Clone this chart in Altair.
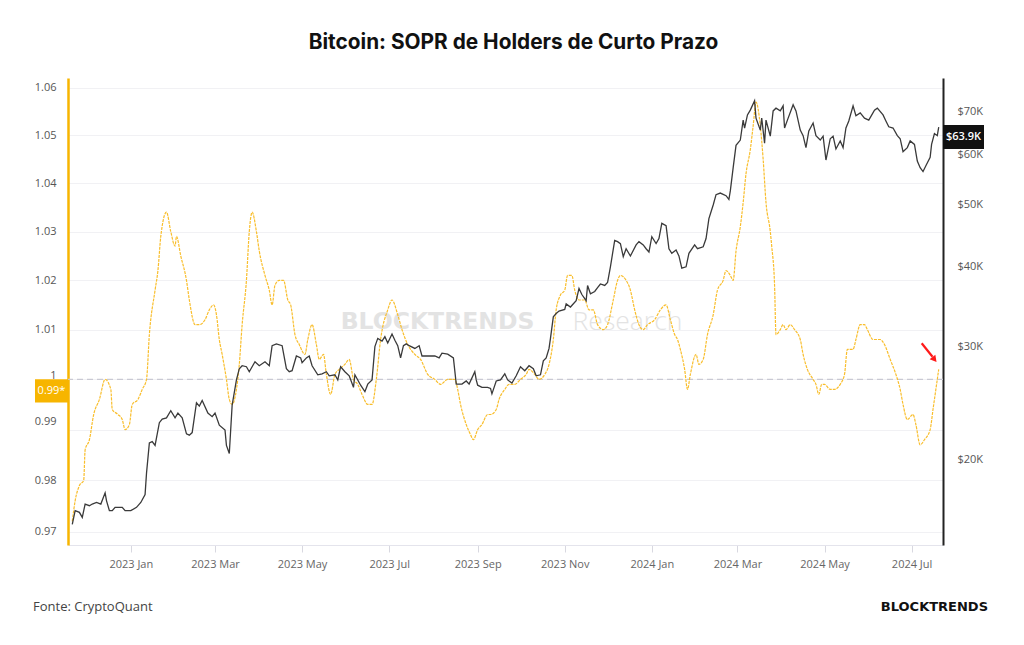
import altair as alt
import pandas as pd

# ---- data ----
# days since 2023-01-01
sopr_day = [-41, -39, -36, -33, -32, -29, -26, -22, -18, -14, -13, -9, -6, -4, -1, 1, 5, 8, 11, 13,
            17, 19, 21, 25, 28, 31, 32, 35, 39, 41, 45, 48, 52, 55, 58, 60, 62, 64, 67, 69,
            71, 74, 76, 78, 81, 83, 85, 88, 90, 94, 97, 99, 101, 104, 107, 110, 112, 115, 118, 122,
            124, 127, 130, 132, 135, 137, 140, 143, 146, 150, 153, 156, 159, 162, 166, 169, 172, 175, 180, 183,
            187, 190, 194, 199, 203, 208, 213, 217, 222, 227, 229, 231, 235, 238, 240, 243, 246, 250, 252, 256,
            258, 262, 265, 269, 273, 277, 279, 283, 286, 290, 293, 296, 298, 301, 304, 306, 309, 311, 314, 318,
            321, 324, 327, 331, 334, 338, 341, 343, 347, 350, 353, 356, 359, 362, 367, 371, 375, 378, 381, 383,
            385, 388, 390, 392, 396, 398, 401, 404, 408, 411, 415, 417, 420, 422, 424, 427, 429, 431, 434, 436,
            438, 441, 443, 445, 448, 449, 451, 452, 455, 457, 459, 462, 465, 469, 471, 474, 478, 480, 482, 484,
            486, 490, 493, 497, 500, 502, 506, 508, 511, 514, 516, 520, 522, 525, 528, 532, 536, 539, 541, 544,
            548, 550, 553, 556, 560, 562, 564, 566]
sopr_value = [0.972, 0.976, 0.979, 0.980, 0.986, 0.988, 0.993, 0.996, 1.000, 0.998, 0.994, 0.993, 0.992, 0.990, 0.991, 0.995, 0.996, 0.998, 1.000, 1.009,
              1.018, 1.022, 1.029, 1.034, 1.030, 1.027, 1.029, 1.025, 1.020, 1.016, 1.011, 1.011, 1.012, 1.014, 1.015, 1.013, 1.008, 1.005, 1.000, 0.996,
              0.995, 0.998, 1.003, 1.011, 1.020, 1.030, 1.034, 1.030, 1.026, 1.021, 1.018, 1.015, 1.019, 1.020, 1.020, 1.016, 1.015, 1.009, 1.007, 1.005,
              1.008, 1.011, 1.007, 1.004, 1.005, 1.001, 0.997, 1.001, 1.002, 1.003, 1.004, 1.000, 0.999, 0.997, 0.995, 0.995, 1.000, 1.008, 1.014, 1.016,
              1.013, 1.010, 1.007, 1.005, 1.004, 1.001, 1.000, 0.999, 1.000, 1.000, 0.998, 0.995, 0.991, 0.989, 0.988, 0.990, 0.991, 0.993, 0.993, 0.994,
              0.996, 0.998, 0.999, 0.999, 1.000, 1.001, 1.002, 1.001, 1.000, 1.001, 1.003, 1.008, 1.014, 1.017, 1.018, 1.021, 1.021, 1.018, 1.016, 1.016,
              1.014, 1.014, 1.011, 1.010, 1.011, 1.016, 1.020, 1.021, 1.020, 1.018, 1.014, 1.011, 1.010, 1.011, 1.012, 1.014, 1.015, 1.012, 1.009, 1.008,
              1.006, 1.002, 0.998, 1.001, 1.005, 1.003, 1.004, 1.009, 1.013, 1.018, 1.020, 1.022, 1.021, 1.020, 1.026, 1.031, 1.036, 1.042, 1.047, 1.052,
              1.057, 1.052, 1.045, 1.036, 1.030, 1.027, 1.019, 1.009, 1.010, 1.011, 1.010, 1.011, 1.010, 1.008, 1.005, 1.002, 1.000, 0.999, 0.997, 0.999,
              0.999, 0.998, 0.998, 0.999, 1.001, 1.006, 1.006, 1.008, 1.011, 1.011, 1.010, 1.008, 1.008, 1.008, 1.007, 1.004, 1.001, 0.998, 0.995, 0.992,
              0.993, 0.991, 0.987, 0.988, 0.990, 0.994, 0.998, 1.002]

price_day = [-41, -39, -36, -34, -32, -29, -27, -24, -21, -18, -17, -15, -13, -11, -6, -4, 0, 4, 7, 10,
             11, 13, 15, 17, 20, 22, 25, 28, 31, 33, 36, 39, 41, 43, 46, 48, 50, 54, 57, 59,
             62, 66, 67, 69, 71, 74, 76, 78, 81, 83, 87, 90, 94, 97, 99, 102, 106, 109, 111, 113,
             116, 119, 120, 123, 125, 127, 131, 134, 137, 139, 143, 145, 147, 150, 153, 156, 157, 159, 161, 164,
             166, 169, 171, 173, 176, 178, 180, 183, 185, 187, 189, 191, 193, 195, 199, 202, 204, 208, 213, 216,
             218, 222, 226, 228, 230, 232, 235, 237, 241, 242, 243, 246, 250, 252, 253, 256, 259, 262, 264, 267,
             270, 273, 276, 279, 282, 284, 287, 289, 291, 293, 294, 296, 298, 300, 304, 305, 308, 312, 314, 316,
             319, 320, 322, 325, 327, 329, 332, 334, 336, 339, 341, 343, 345, 347, 350, 354, 356, 359, 361, 363,
             365, 368, 370, 372, 375, 377, 379, 382, 384, 386, 389, 391, 395, 397, 401, 403, 405, 408, 410, 413,
             417, 419, 420, 422, 424, 427, 429, 430, 432, 434, 437, 438, 441, 442, 444, 445, 448, 450, 452, 455,
             457, 458, 460, 464, 466, 469, 471, 473, 475, 478, 480, 483, 485, 487, 490, 492, 494, 497, 499, 501,
             503, 506, 508, 511, 514, 517, 521, 523, 527, 529, 531, 534, 537, 539, 541, 544, 546, 549, 551, 553,
             555, 557, 560, 561, 563, 565, 566]
price_k = [15.8, 16.6, 16.5, 16.2, 17.0, 16.9, 17.0, 17.1, 17.0, 17.7, 17.2, 16.6, 16.6, 16.8, 16.8, 16.6, 16.6, 16.8, 17.1, 17.6,
           19.0, 21.2, 21.3, 21.0, 22.8, 23.1, 23.2, 23.8, 23.2, 23.6, 23.2, 21.9, 21.8, 22.0, 24.5, 24.2, 24.7, 23.6, 23.3, 23.6,
           22.6, 22.2, 21.0, 20.4, 24.3, 26.6, 27.7, 28.0, 27.9, 27.4, 28.4, 28.0, 28.4, 28.0, 30.1, 30.3, 30.1, 27.7, 27.4, 27.5,
           29.0, 28.8, 28.3, 28.8, 29.0, 28.0, 27.1, 27.2, 27.4, 27.0, 27.1, 26.6, 27.9, 27.4, 27.0, 25.9, 27.1, 26.6, 26.1, 25.5,
           26.2, 26.6, 30.0, 30.9, 30.6, 31.1, 30.4, 31.4, 30.7, 30.1, 28.8, 30.1, 30.3, 30.1, 29.8, 30.1, 29.0, 29.0, 29.0, 28.8,
           29.3, 29.2, 28.8, 26.2, 26.2, 26.2, 26.5, 26.2, 27.4, 26.6, 26.1, 25.9, 25.9, 25.8, 25.3, 26.5, 26.6, 27.2, 26.6, 26.3,
           27.0, 27.9, 27.5, 28.0, 27.7, 27.0, 27.1, 28.5, 28.8, 29.8, 30.9, 33.4, 33.8, 34.1, 34.3, 35.0, 34.6, 35.4, 37.0, 36.2,
           35.4, 37.4, 36.3, 36.6, 37.1, 37.6, 37.4, 37.8, 40.0, 44.0, 43.8, 43.5, 41.5, 42.7, 41.6, 43.3, 43.8, 43.3, 42.7, 42.2,
           44.6, 43.5, 44.3, 46.8, 46.4, 42.7, 42.0, 42.5, 41.6, 39.8, 40.0, 42.0, 43.3, 42.7, 43.0, 44.3, 47.6, 50.0, 51.9, 52.2,
           51.7, 51.0, 52.6, 57.2, 62.0, 63.2, 67.9, 66.0, 69.2, 70.4, 72.8, 68.4, 65.5, 68.4, 62.5, 67.9, 64.1, 70.2, 70.9, 70.2,
           71.5, 66.0, 67.9, 71.8, 70.2, 65.5, 64.2, 61.5, 65.3, 67.2, 64.2, 63.2, 64.1, 58.8, 63.5, 64.1, 61.2, 63.0, 61.5, 66.0,
           67.7, 71.5, 69.0, 69.7, 68.4, 67.9, 70.4, 70.9, 69.2, 67.7, 66.3, 66.0, 64.2, 63.5, 60.6, 61.5, 63.0, 62.2, 58.6, 57.2,
           56.4, 57.6, 59.4, 62.2, 64.7, 64.2, 66.2]

sopr_ticks = [0.97, 0.98, 0.99, 1.0, 1.01, 1.02, 1.03, 1.04, 1.05, 1.06]
price_ticks = [20000, 30000, 40000, 50000, 60000, 70000]
month_ticks = [(2023, 1), (2023, 3), (2023, 5), (2023, 7), (2023, 9), (2023, 11),
               (2024, 1), (2024, 3), (2024, 5), (2024, 7)]

sopr_label = ["0.99*"]
sopr_label_value = [0.9977]
price_label = ["$63.9K"]
price_label_value = [63900]

title_text = "Bitcoin: SOPR de Holders de Curto Prazo"
source_text = "Fonte: CryptoQuant"
brand_text = "BLOCKTRENDS"

# ---- frames ----
base = pd.Timestamp("2023-01-01")
sopr_df = pd.DataFrame({"date": base + pd.to_timedelta(sopr_day, unit="D"), "sopr": sopr_value})
price_df = pd.DataFrame({"date": base + pd.to_timedelta(price_day, unit="D"),
                         "price": [p * 1000 for p in price_k]})

YELLOW = "#F7B500"
LINE_Y = "#F9BE2C"
FONT = "Open Sans"

x_scale = alt.Scale(domain=[alt.DateTime(year=2022, month=11, date=18),
                            alt.DateTime(year=2024, month=7, date=23)])
x_axis = alt.Axis(values=[alt.DateTime(year=y, month=m, date=1) for y, m in month_ticks],
                  format="%Y %b", title=None, grid=False, domainColor="#e4e4ec",
                  tickColor="#d8d8e0", tickSize=7, labelPadding=6, labelColor="#666",
                  labelFont=FONT, labelFontSize=11)

sopr_scale = alt.Scale(type="log", domain=[0.96742, 1.06212], nice=False)
price_scale = alt.Scale(type="log", domain=[14666, 79050], nice=False)

sopr_axis = alt.Axis(orient="left", values=sopr_ticks, labelExpr="format(datum.value, '.2~f')",
                     labelOffset=alt.ExprRef("datum.value == 1 ? -4 : (datum.value == 0.99 ? -8 : 0)"),
                     title=None, ticks=False, domainColor=YELLOW, domainWidth=2.5,
                     grid=True, gridColor="#f1f1f4", gridWidth=1, labelColor="#555",
                     labelFont=FONT, labelFontSize=11, labelPadding=12)
price_axis = alt.Axis(orient="right", values=price_ticks,
                      labelExpr="'$' + datum.value / 1000 + 'K'", title=None, ticks=False,
                      domainColor="#222", domainWidth=2, grid=False, labelColor="#555",
                      labelFont=FONT, labelFontSize=11, labelPadding=14)


def X(axis=None):
    return alt.X("date:T", scale=x_scale, axis=axis)


# ---- SOPR layers ----
# carries the left axis and its grid
one_line = alt.Chart(pd.DataFrame({"v": [1.0]})).mark_rule(
    color="#c9c9d3", strokeDash=[6, 4], strokeWidth=1.2
).encode(y=alt.Y("v:Q", scale=sopr_scale, axis=sopr_axis))

sopr_line = alt.Chart(sopr_df).mark_line(
    color=LINE_Y, strokeWidth=1.2, strokeDash=[3, 1], interpolate="monotone"
).encode(x=X(x_axis), y=alt.Y("sopr:Q", scale=sopr_scale, axis=None))

lab_df = pd.DataFrame({"v": sopr_label_value, "t": sopr_label})
sopr_box = alt.Chart(lab_df).mark_point(
    shape="M-1,-0.7L1,-0.7L1,0.7L-1,0.7Z", filled=True, opacity=1, color=YELLOW, size=1089
).encode(x=alt.value(-16.5), y=alt.Y("v:Q", scale=sopr_scale, axis=None))
sopr_box_text = alt.Chart(lab_df).mark_text(
    color="white", font=FONT, fontSize=11, baseline="middle", align="center"
).encode(x=alt.value(-16.5), y=alt.Y("v:Q", scale=sopr_scale, axis=None), text="t:N")

# ---- price layers ----
price_line = alt.Chart(price_df).mark_line(color="#3a3a3a", strokeWidth=1.3).encode(
    x=X(), y=alt.Y("price:Q", scale=price_scale, axis=price_axis))
plab_df = pd.DataFrame({"v": price_label_value, "t": price_label})
price_box = alt.Chart(plab_df).mark_point(
    shape="M-1,-0.585L1,-0.585L1,0.585L-1,0.585Z", filled=True, opacity=1, color="#111", size=1681
).encode(x=alt.value(895.5), y=alt.Y("v:Q", scale=price_scale, axis=None))
price_box_text = alt.Chart(plab_df).mark_text(
    color="white", font=FONT, fontSize=11, fontWeight=600, baseline="middle", align="center"
).encode(x=alt.value(895.5), y=alt.Y("v:Q", scale=price_scale, axis=None), text="t:N")


# ---- annotations ----
def label(text, x, y, **kw):
    return alt.Chart(pd.DataFrame({"t": [text]})).mark_text(**kw).encode(
        x=alt.value(x), y=alt.value(y), text="t:N")


title = label(title_text, 445.5, -35, font="Inter", fontSize=20.8, fontWeight=700,
              color="#111", align="center", baseline="middle")
source = label(source_text, -35, 529, font=FONT, fontSize=13, color="#444",
               align="left", baseline="middle")
brand = label(brand_text, 920, 529, font="DejaVu Sans", fontSize=13, fontWeight=700,
              color="#111", align="right", baseline="middle")
wm1 = label("BLOCKTRENDS", 369.5, 244, font="DejaVu Sans", fontSize=23.5, fontWeight=700,
            color="#e3e3e3", align="center", baseline="middle")
wm2 = label("Research", 559.5, 244, font=FONT, fontSize=26.5, fontWeight=300,
            color="#e3e3e3", align="center", baseline="middle")

arrow_line = alt.Chart(pd.DataFrame({"a": [0]})).mark_rule(color="#ff1a1a", strokeWidth=2.2).encode(
    x=alt.value(853.7), y=alt.value(265.3), x2=alt.value(864.5), y2=alt.value(278.8))
arrow_head = alt.Chart(pd.DataFrame({"a": [0]})).mark_point(
    shape="triangle-up", filled=True, opacity=1, color="#ff1a1a", size=55, angle=141
).encode(x=alt.value(866.5), y=alt.value(281.5))

chart = alt.layer(
    one_line, wm1, wm2, sopr_line, price_line, sopr_box, sopr_box_text,
    price_box, price_box_text, arrow_line, arrow_head, title, source, brand
).resolve_scale(x="independent", y="independent").resolve_axis(
    x="independent", y="independent"
).properties(
    width=875, height=467,
    autosize=alt.AutoSizeParams(type="none"),
    padding={"left": 68, "top": 78, "right": 81, "bottom": 100},
    background="white",
).configure_view(stroke=None)

chart.save("out.html", embed_options={"renderer": "svg", "actions": False})
